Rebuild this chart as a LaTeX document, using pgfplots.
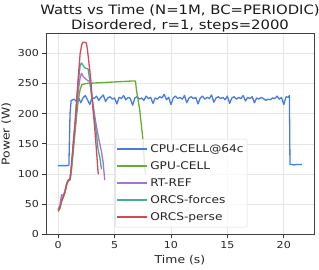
\documentclass[border=0pt]{standalone}
\usepackage{pgfplots}
\pgfplotsset{compat=1.18}
\usepackage{fontspec}
\setmainfont{DejaVu Sans}[FakeStretch=1.15]
\definecolor{cpuc}{RGB}{72,124,220}
\definecolor{gpuc}{RGB}{104,170,56}
\definecolor{rtc}{RGB}{165,115,212}
\definecolor{orfc}{RGB}{70,172,152}
\definecolor{orpc}{RGB}{212,72,92}
\begin{document}
\begin{tikzpicture}
\begin{axis}[
 scale only axis, width=268bp, height=201.2bp,
 xmin=-1.08, xmax=22.68, ymin=0, ymax=333,
 xtick={0,5,10,15,20}, ytick={0,50,100,150,200,250,300},
 grid=major, major grid style={black!10, line width=0.6bp},
 axis line style={black!75, line width=0.8bp},
 tick style={black!80, line width=0.8bp},
 tick align=outside, tick pos=left, major tick length=3.5bp,
 ticklabel style={font=\fontsize{9.6bp}{11bp}\selectfont, text=black!85},
 /pgf/number format/assume math mode=true,
 xlabel={Time (s)}, ylabel={Power (W)},
 label style={font=\fontsize{10.8bp}{13bp}\selectfont, text=black!85},
 title={Watts vs Time (N=1M, BC=PERIODIC)\\Disordered, r=1, steps=2000},
 title style={align=center, font=\fontsize{12.9bp}{15bp}\selectfont, text=black!90, inner sep=1bp, at={(0.5,1)}, anchor=south, yshift=-6.5bp},
 legend style={at={(0.258,0.036)}, anchor=south west, font=\fontsize{10.6bp}{13bp}\selectfont, draw=black!15, rounded corners=2bp, fill=white, fill opacity=0.8, text opacity=1, inner xsep=1bp, inner ysep=1.5bp, row sep=0bp, nodes={inner sep=2.5bp, text height=9bp, text depth=3bp, text=black!85}},
 legend cell align=left,
 legend image code/.code={\draw[#1, line width=1.6bp] (0bp,0bp) -- (25bp,0bp); \path (0bp,0bp) -- (30bp,0bp);},
 every axis plot/.append style={line width=1.3bp, line join=round},
]
\addplot[cpuc] coordinates {
(0,114)(0.2,114)(0.4,114)(0.6,114)(0.8,114)(0.95,115)(1.05,200)(1.15,222)
(1.2,222)(1.4,224)(1.6,221)(1.8,227)(2.0,218)(2.2,226)(2.4,230)(2.6,223)(2.8,215)(3.0,227)
(3.2,225)(3.4,229)(3.6,222)(3.8,227)(4.0,231)(4.2,220)(4.4,226)(4.6,228)(4.8,224)(5.0,226)
(5.2,216)(5.4,227)(5.6,225)(5.8,230)(6.0,223)(6.2,227)(6.4,225)(6.6,214)(6.8,226)(7.0,228)
(7.2,224)(7.4,226)(7.6,222)(7.8,229)(8.0,225)(8.2,227)(8.4,217)(8.6,226)(8.8,224)(9.0,228)
(9.2,226)(9.4,232)(9.6,223)(9.8,227)(10.0,215)(10.2,226)(10.4,229)(10.6,225)(10.8,227)(11.0,224)
(11.2,230)(11.4,218)(11.6,226)(11.8,228)(12.0,225)(12.2,227)(12.4,216)(12.6,226)(12.8,229)(13.0,224)
(13.2,227)(13.4,225)(13.6,231)(13.8,219)(14.0,226)(14.2,228)(14.4,225)(14.6,227)(14.8,223)(15.0,229)
(15.2,217)(15.4,226)(15.6,228)(15.8,224)(16.0,227)(16.2,225)(16.4,230)(16.6,221)(16.8,227)(17.0,225)
(17.2,228)(17.4,218)(17.6,226)(17.8,224)(18.0,227)(18.2,225)(18.4,222)(18.6,224)(18.8,223)(19.0,226)
(19.2,225)(19.4,229)(19.6,224)(19.8,227)(20.0,215)(20.2,228)(20.4,227)(20.5,230)
(20.55,116)(20.7,116)(20.9,115)(21.1,116)(21.3,116)(21.6,116)
};
\addlegendentry{CPU-CELL@64c}
\addplot[gpuc] coordinates {
(0,38)(0.15,43)(0.3,55)(0.45,62)(0.6,70)(0.75,83)(0.9,89)(1.06,91)(1.2,110)(1.35,140)(1.5,170)
(1.65,200)(1.8,225)(1.95,240)(2.1,248)(2.3,249)(2.5,250)(3,250.5)(3.5,251)(4,251.5)(4.5,252)
(5,252.5)(5.5,253)(6,253.5)(6.5,254)(6.85,254)(6.94,239)(7.23,206)(7.52,156)(7.67,110)(7.75,100)
};
\addlegendentry{GPU-CELL}
\addplot[rtc] coordinates {
(0,42)(0.15,48)(0.3,66)(0.45,64)(0.6,72)(0.75,84)(0.9,90)(1.06,91)(1.2,118)(1.35,150)(1.5,180)
(1.65,212)(1.8,240)(1.95,260)(2.07,267)(2.2,262)(2.4,258)(2.6,255)(2.8,253)(2.95,235)(3.1,215)
(3.25,195)(3.4,178)(3.6,158)(3.84,137)(3.98,120)(4.13,90)
};
\addlegendentry{RT-REF}
\addplot[orfc] coordinates {
(0,40)(0.15,45)(0.3,58)(0.45,62)(0.6,71)(0.75,84)(0.9,90)(1.06,90)(1.2,115)(1.35,150)(1.5,185)
(1.65,225)(1.8,255)(1.95,280)(2.07,284)(2.2,280)(2.35,276)(2.5,275)(2.65,274)(2.8,255)(2.95,230)
(3.1,210)(3.25,189)(3.4,165)(3.54,140)(3.69,128)(3.84,108)
};
\addlegendentry{ORCS-forces}
\addplot[orpc] coordinates {
(0,40)(0.15,44)(0.3,55)(0.45,62)(0.6,70)(0.75,82)(0.9,90)(1.05,92)(1.2,120)(1.35,155)(1.5,185)
(1.65,225)(1.8,265)(1.95,300)(2.1,315)(2.2,318)(2.35,318)(2.5,317)(2.6,305)(2.75,280)(2.9,255)
(3.05,215)(3.2,185)(3.35,150)(3.45,125)(3.55,100)
};
\addlegendentry{ORCS-perse}
\end{axis}
\pgfresetboundingbox
\path[use as bounding box] ([shift={(-46bp,-35.5bp)}]current axis.south west) rectangle ([shift={(5bp,33.3bp)}]current axis.north east);
\end{tikzpicture}
\end{document}
